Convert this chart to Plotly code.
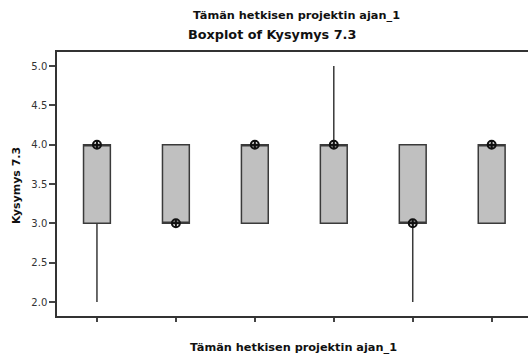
import plotly.graph_objects as go

# Group positions along the x axis (unlabelled groups 1..6)
groups = [1, 2, 3, 4, 5, 6]
q1 = [3, 3, 3, 3, 3, 3]
median = [4, 3, 4, 4, 3, 4]
q3 = [4, 4, 4, 4, 4, 4]
lower_whisker = [2, 3, 3, 3, 2, 3]
upper_whisker = [4, 4, 4, 5, 4, 4]
means = [4.0, 3.0, 4.0, 4.0, 3.0, 4.0]
y_ticks = [2.0, 2.5, 3.0, 3.5, 4.0, 4.5, 5.0]

title_top = "Tämän hetkisen projektin ajan_1"
title_main = "Boxplot of Kysymys 7.3"
x_title = "Tämän hetkisen projektin ajan_1"
y_title = "Kysymys 7.3"

W, H = 528, 358
ML, MR, MT, MB = 57, 0, 52, 42
PW, PH = W - ML - MR, H - MT - MB


def px_x(px):
    return (px - ML) / PW


def px_y(py):
    return (H - MB - py) / PH


FONT = "DejaVu Sans"

fig = go.Figure()

fig.add_trace(go.Box(
    x=groups,
    q1=q1,
    median=median,
    q3=q3,
    lowerfence=lower_whisker,
    upperfence=upper_whisker,
    width=0.34,
    whiskerwidth=0,
    fillcolor="#c0c0c0",
    line=dict(color="#3a3a3a", width=1.5),
    boxpoints=False,
    hoverinfo="skip",
    showlegend=False,
))

fig.add_trace(go.Scatter(
    x=groups,
    y=means,
    mode="markers",
    marker=dict(symbol="circle-cross-open", size=8, color="#111111",
                line=dict(width=2, color="#111111")),
    hoverinfo="skip",
    showlegend=False,
    cliponaxis=False,
))

fig.update_layout(
    width=W,
    height=H,
    margin=dict(l=ML, r=MR, t=MT, b=MB),
    paper_bgcolor="white",
    plot_bgcolor="white",
    font=dict(family=FONT, size=10, color="#222222"),
    xaxis=dict(
        range=[0.494, 6.46],
        tickvals=groups,
        ticktext=[""] * len(groups),
        ticks="outside",
        ticklen=4,
        tickwidth=1.5,
        tickcolor="#444444",
        showline=True,
        linecolor="#333333",
        linewidth=1.5,
        mirror=True,
        showgrid=False,
        zeroline=False,
    ),
    yaxis=dict(
        range=[1.822, 5.178],
        tickvals=y_ticks,
        ticktext=[f"{v:.1f}" for v in y_ticks],
        ticks="outside",
        ticklen=6,
        tickwidth=1.5,
        tickcolor="#444444",
        tickfont=dict(family=FONT, size=10, color="#333333"),
        showline=True,
        linecolor="#333333",
        linewidth=1.5,
        showgrid=False,
        zeroline=False,
    ),
    annotations=[
        dict(text=f"<b>{title_top}</b>", x=px_x(296), y=px_y(16),
             xref="paper", yref="paper", xanchor="center", yanchor="middle",
             showarrow=False, font=dict(family=FONT, size=11.3, color="#111111")),
        dict(text=f"<b>{title_main}</b>", x=px_x(272), y=px_y(34),
             xref="paper", yref="paper", xanchor="center", yanchor="middle",
             showarrow=False, font=dict(family=FONT, size=12.8, color="#111111")),
        dict(text=f"<b>{x_title}</b>", x=px_x(293), y=px_y(347),
             xref="paper", yref="paper", xanchor="center", yanchor="middle",
             showarrow=False, font=dict(family=FONT, size=11.3, color="#111111")),
        dict(text=f"<b>{y_title}</b>", x=px_x(16), y=px_y(186),
             xref="paper", yref="paper", xanchor="center", yanchor="middle",
             textangle=-90, showarrow=False,
             font=dict(family=FONT, size=11, color="#111111")),
    ],
)

fig.write_html("out.html")
